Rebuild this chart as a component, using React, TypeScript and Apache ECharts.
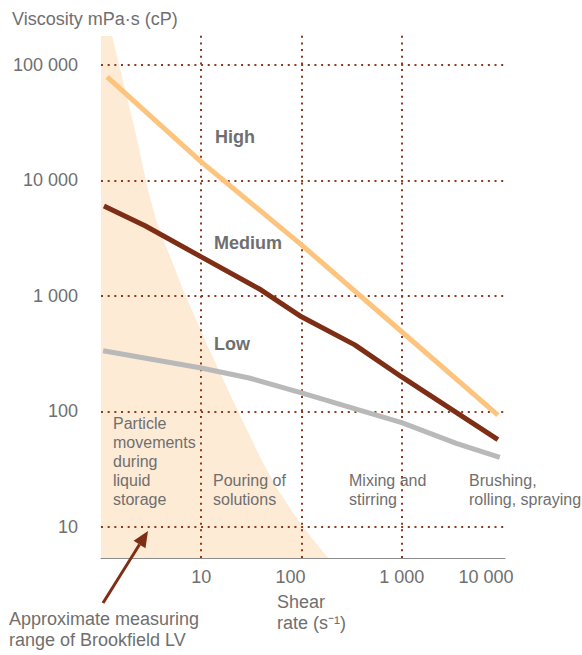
import React, { useEffect, useRef } from 'react';
import * as echarts from 'echarts';

// Shear rate (s^-1) and viscosity (mPa·s)
const highShear = [1.15, 10, 100, 1000, 9100];
const highViscosity = [78700, 14500, 2770, 490, 93];
const mediumShear = [1.07, 2.75, 10, 38, 100, 340, 1000, 9100];
const mediumViscosity = [6000, 4050, 2180, 1150, 660, 377, 199, 57];
const lowShear = [1.05, 10, 30, 100, 300, 1000, 3500, 9500];
const lowViscosity = [335, 238, 195, 145, 109, 80, 53, 40];
// Boundary of the approximate measuring range of Brookfield LV
const brookfieldShear = [1, 1.29, 2.18, 2.94, 3.62, 6.58, 10.9, 18.5, 38.5, 58.3, 96.6, 184];
const brookfieldViscosity = [178000, 178000, 27400, 8280, 4290, 1130, 416, 153, 40.4, 20.9, 10.8, 5.4];

const xGridValues = [10, 100, 1000];
const yGridValues = [10, 100, 1000, 10000, 100000];
const xTickValues = [10, 100, 1000, 10000];
const xRange = [1, 10715];
const yRange = [5.39, 189000];

const seriesLabels = ['High', 'Medium', 'Low'];
const zoneLabels = [
  'Particle\nmovements\nduring\nliquid\nstorage',
  'Pouring of\nsolutions',
  'Mixing and\nstirring',
  'Brushing,\nrolling, spraying',
];
const yAxisTitle = 'Viscosity mPa·s (cP)';
const xAxisTitle = 'Shear\nrate (s⁻¹)';
const rangeNote = 'Approximate measuring\nrange of Brookfield LV';

const FONT = '"Liberation Sans", Arial, Helvetica, sans-serif';
const TEXT = '#6f6f6f';
const GRID = '#8b3a1f';

const zip = (xs: number[], ys: number[]) => xs.map((x, i) => [x, ys[i]]);
const isPow10 = (v: number) => {
  const l = Math.log10(v);
  return Math.abs(l - Math.round(l)) < 1e-6;
};
const fmt = (v: number) =>
  String(Math.round(v)).replace(/\B(?=(\d{3})+(?!\d))/g, ' ');

export default function App() {
  const ref = useRef<HTMLDivElement>(null);
  useEffect(() => {
    document.body.style.margin = '0';
    if (!ref.current) return;
    const chart = echarts.init(ref.current, undefined, { renderer: 'svg' });
    const text = (
      t: string,
      x: number,
      y: number,
      size: number,
      lh: number,
      weight: string = 'normal'
    ) => ({
      type: 'text',
      x,
      y,
      z: 10,
      style: {
        text: t,
        fill: TEXT,
        fontSize: size,
        fontFamily: FONT,
        fontWeight: weight,
        lineHeight: lh,
        verticalAlign: 'top',
        align: 'left',
      },
    });
    // arrow geometry
    const tip = [148, 531];
    const start = [103, 603];
    const dx = tip[0] - start[0];
    const dy = tip[1] - start[1];
    const len = Math.hypot(dx, dy);
    const ux = dx / len;
    const uy = dy / len;
    const hl = 16;
    const hw = 7;
    const bx = tip[0] - ux * hl;
    const by = tip[1] - uy * hl;

    chart.setOption({
      animation: false,
      textStyle: { fontFamily: FONT },
      grid: { left: 101, top: 33, width: 404, height: 525, containLabel: false, outerBoundsMode: 'none' },
      xAxis: {
        type: 'log',
        logBase: 10,
        min: xRange[0],
        max: xRange[1],
        axisLine: { show: true, lineStyle: { color: '#8c8c8c', width: 1 } },
        axisTick: { show: false },
        splitLine: { show: false },
        axisLabel: {
          margin: 10,
          fontSize: 18,
          color: TEXT,
          fontFamily: FONT,
          formatter: (v: number) => {
            if (!isPow10(v)) return '';
            const r = Math.round(v);
            if (!xTickValues.includes(r)) return '';
            if (r === 100) return '{a|' + fmt(r) + '}';
            if (r === 10000) return '{b|' + fmt(r) + '}';
            return fmt(r);
          },
          rich: {
            a: { fontSize: 18, color: TEXT, fontFamily: FONT, padding: [0, 22, 0, 0] },
            b: { fontSize: 18, color: TEXT, fontFamily: FONT, padding: [0, 32, 6, 0] },
          },
        },
      },
      yAxis: {
        type: 'log',
        logBase: 10,
        min: yRange[0],
        max: yRange[1],
        axisLine: { show: false },
        axisTick: { show: false },
        splitLine: { show: false },
        axisLabel: {
          margin: 23,
          fontSize: 18,
          color: TEXT,
          fontFamily: FONT,
          formatter: (v: number) => (isPow10(v) && v >= 10 ? fmt(v) : ''),
        },
      },
      series: [
        {
          type: 'line',
          name: 'Brookfield LV range',
          data: zip(brookfieldShear, brookfieldViscosity),
          symbol: 'none',
          lineStyle: { width: 0, color: '#fdebd6' },
          areaStyle: { color: '#fdebd6', opacity: 1, origin: 'start' },
          z: 1,
          silent: true,
          markLine: {
            silent: true,
            symbol: ['none', 'none'],
            z: 2,
            label: { show: false },
            lineStyle: { color: GRID, type: [2, 4.67], width: 2 },
            emphasis: { disabled: true },
            data: [
              ...yGridValues.map((v) => ({ yAxis: v })),
              ...xGridValues.map((v) => ({ xAxis: v })),
            ],
          },
        },
        {
          type: 'line',
          name: seriesLabels[2],
          data: zip(lowShear, lowViscosity),
          symbol: 'none',
          lineStyle: { width: 5, color: '#b9b9b9' },
          z: 3,
        },
        {
          type: 'line',
          name: seriesLabels[1],
          data: zip(mediumShear, mediumViscosity),
          symbol: 'none',
          lineStyle: { width: 5, color: '#7d2e14' },
          z: 3,
        },
        {
          type: 'line',
          name: seriesLabels[0],
          data: zip(highShear, highViscosity),
          symbol: 'none',
          lineStyle: { width: 5, color: '#fdc47e' },
          z: 3,
        },
      ],
      graphic: [
        text(yAxisTitle, 12, 9, 18, 20),
        text(seriesLabels[0], 215, 127, 18, 20, 'bold'),
        text(seriesLabels[1], 214, 233, 18, 20, 'bold'),
        text(seriesLabels[2], 214, 334, 18, 20, 'bold'),
        text(zoneLabels[0], 113, 413.5, 16, 19),
        text(zoneLabels[1], 213, 470.5, 16, 19),
        text(zoneLabels[2], 349, 470.5, 16, 19),
        text(zoneLabels[3], 469, 470.5, 16, 19),
        text(xAxisTitle, 277, 591.5, 18, 21),
        text(rangeNote, 9, 608.5, 18, 21),
        {
          type: 'line',
          z: 10,
          shape: { x1: start[0], y1: start[1], x2: bx, y2: by },
          style: { stroke: '#7d2e14', lineWidth: 3 },
        },
        {
          type: 'polygon',
          z: 10,
          shape: {
            points: [
              [tip[0], tip[1]],
              [bx - uy * hw, by + ux * hw],
              [bx + uy * hw, by - ux * hw],
            ],
          },
          style: { fill: '#7d2e14' },
        },
      ],
    });
    return () => chart.dispose();
  }, []);
  return (
    <div
      ref={ref}
      style={{ position: 'absolute', left: 0, top: 0, width: 582, height: 655 }}
    />
  );
}
